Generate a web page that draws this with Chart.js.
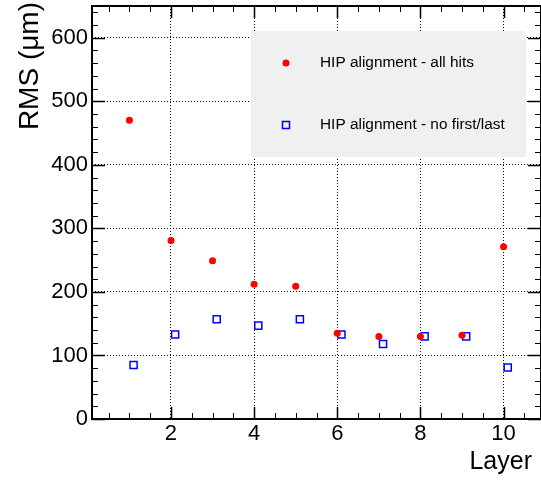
<!DOCTYPE html>
<html>
<head>
<meta charset="utf-8">
<script src="https://cdn.jsdelivr.net/npm/chart.js@4/dist/chart.umd.min.js"></script>
<style>
html,body{margin:0;padding:0;background:#fff;}
#wrap{width:541px;height:481px;position:relative;}
</style>
</head>
<body>
<div id="wrap"><canvas id="c" width="541" height="481"></canvas></div>
<script>
// ---- data ----
const layers = [1, 2, 3, 4, 5, 6, 7, 8, 9, 10];
const allHits = [470, 281, 249, 212, 209, 135, 130, 130, 132, 271];
const layersShifted = [1.1, 2.1, 3.1, 4.1, 5.1, 6.1, 7.1, 8.1, 9.1, 10.1];
const noFirstLast = [85, 133, 157, 147, 157, 133, 118, 130, 130, 81];
const xTicks = [2, 4, 6, 8, 10];
const yTicks = [0, 100, 200, 300, 400, 500, 600];
const xMinorTicks = [0.5, 1, 1.5, 2.5, 3, 3.5, 4.5, 5, 5.5, 6.5, 7, 7.5, 8.5, 9, 9.5, 10.5];
const yMinorTicks = [];
for (let v = 20; v < 650; v += 20) if (v % 100 !== 0) yMinorTicks.push(v);
const legendLabels = ['HIP alignment - all hits', 'HIP alignment - no first/last'];
const xTitle = 'Layer';
const yTitle = 'RMS (\u03bcm)';

const FONT = 'Liberation Sans, Arial, Helvetica, sans-serif';

const zeroPad = s => { s.paddingTop = 0; s.paddingBottom = 0; s.paddingLeft = 0; s.paddingRight = 0; };

const framePlugin = {
  id: 'frame',
  afterDatasetsDraw(chart) {
    const {ctx, chartArea: a, scales: {x, y}} = chart;
    ctx.save();
    // legend box
    ctx.fillStyle = '#f0f0f0';
    ctx.fillRect(251, 31, 275, 126);
    ctx.fillStyle = '#ff0000';
    ctx.beginPath(); ctx.arc(286, 63, 3.5, 0, Math.PI * 2); ctx.fill();
    ctx.strokeStyle = '#0000ff'; ctx.lineWidth = 1.5;
    ctx.strokeRect(282.5, 121.5, 7, 7);
    ctx.fillStyle = '#000';
    ctx.font = '15.4px ' + FONT;
    ctx.textBaseline = 'middle'; ctx.textAlign = 'left';
    ctx.fillText(legendLabels[0], 320, 63);
    ctx.fillText(legendLabels[1], 320, 125);

    // ticks inside
    ctx.strokeStyle = '#000'; ctx.lineWidth = 1;
    ctx.beginPath();
    const tk = (arr, len, axis) => {
      arr.forEach(v => {
        if (axis === 'x') {
          const px = Math.round(x.getPixelForValue(v)) + 0.5;
          ctx.moveTo(px, a.bottom); ctx.lineTo(px, a.bottom - len);
          ctx.moveTo(px, a.top); ctx.lineTo(px, a.top + len);
        } else {
          const py = Math.round(y.getPixelForValue(v)) + 0.5;
          ctx.moveTo(a.left, py); ctx.lineTo(a.left + len, py);
          ctx.moveTo(a.right, py); ctx.lineTo(a.right - len, py);
        }
      });
    };
    tk(xMinorTicks, 6, 'x');
    tk(yMinorTicks, 6, 'y');
    ctx.stroke();
    ctx.lineWidth = 1.5;
    ctx.beginPath();
    tk(xTicks, 12, 'x');
    tk(yTicks, 13, 'y');
    ctx.stroke();
    // frame
    ctx.lineWidth = 2;
    ctx.strokeRect(a.left, a.top, a.right - a.left, a.bottom - a.top);

    // axis titles
    ctx.fillStyle = '#000';
    ctx.font = '25px ' + FONT;
    ctx.textAlign = 'right'; ctx.textBaseline = 'alphabetic';
    ctx.fillText(xTitle, 532, 469);
    ctx.save();
    ctx.translate(38, 2);
    ctx.rotate(-Math.PI / 2);
    ctx.font = '28px ' + FONT;
    ctx.textAlign = 'right';
    ctx.fillText(yTitle, 0, 0);
    ctx.restore();
    ctx.restore();
  }
};

new Chart(document.getElementById('c'), {
  type: 'scatter',
  data: {
    datasets: [
      {
        label: legendLabels[0],
        data: layers.map((l, i) => ({x: l, y: allHits[i]})),
        pointStyle: 'circle',
        pointRadius: 3.5,
        pointBorderWidth: 0,
        backgroundColor: '#ff0000',
        borderColor: '#ff0000'
      },
      {
        label: legendLabels[1],
        data: layersShifted.map((l, i) => ({x: l, y: noFirstLast[i]})),
        pointStyle: 'rect',
        pointRadius: 5,
        pointBorderWidth: 1.5,
        backgroundColor: 'rgba(0,0,0,0)',
        borderColor: '#0000ff'
      }
    ]
  },
  options: {
    responsive: false,
    animation: false,
    events: [],
    layout: {autoPadding: false, padding: {left: 0, top: 6, right: 0, bottom: 0}},
    plugins: {legend: {display: false}, tooltip: {enabled: false}},
    scales: {
      x: {
        type: 'linear',
        min: 0.1,
        max: 10.9,
        afterBuildTicks: s => { s.ticks = xTicks.map(v => ({value: v})); },
        afterFit: s => { s.height = 62; zeroPad(s); },
        ticks: {color: '#000', font: {family: FONT, size: 22}, padding: 2, maxRotation: 0},
        grid: {color: '#000', lineWidth: 1, drawTicks: false},
        border: {display: false, dash: [1, 2]}
      },
      y: {
        type: 'linear',
        min: 0,
        max: 650,
        afterBuildTicks: s => { s.ticks = yTicks.map(v => ({value: v})); },
        afterFit: s => { s.width = 92; zeroPad(s); },
        ticks: {color: '#000', font: {family: FONT, size: 22}, padding: 4},
        grid: {color: '#000', lineWidth: 1, drawTicks: false},
        border: {display: false, dash: [1, 2]}
      }
    }
  },
  plugins: [framePlugin]
});
</script>
</body>
</html>
